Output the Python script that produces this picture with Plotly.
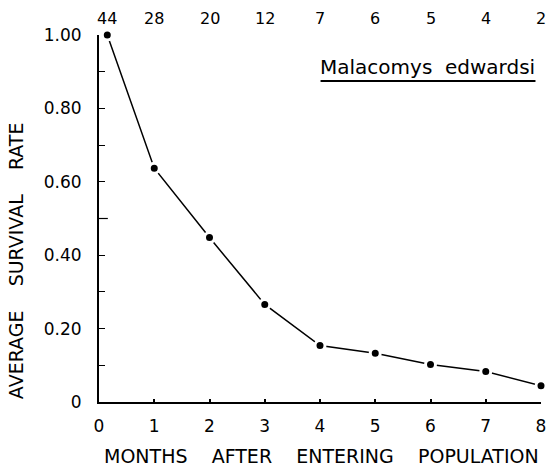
import plotly.graph_objects as go

# Data
months = [0.15, 1, 2, 3, 4, 5, 6, 7, 8]
survival = [1.00, 0.637, 0.448, 0.266, 0.154, 0.133, 0.102, 0.083, 0.044]
n_alive = ["44", "28", "20", "12", "7", "6", "5", "4", "2"]

x_ticks = [0, 1, 2, 3, 4, 5, 6, 7, 8]
y_tickvals = [0, 0.2, 0.4, 0.6, 0.8, 1.0]
y_ticktext = ["0", "0.20", "0.40", "0.60", "0.80", "1.00"]

FONT = "DejaVu Sans"
NB = "\u00a0"

fig = go.Figure()
fig.add_trace(go.Scatter(
    x=months, y=survival, mode="lines+markers",
    line=dict(color="black", width=1.5),
    marker=dict(color="black", size=10, line=dict(color="white", width=3)),
    cliponaxis=False, showlegend=False,
))

annotations = []
for xv, t in zip(months, n_alive):
    annotations.append(dict(x=xv, y=1.046, xref="x", yref="paper", text=t,
                            showarrow=False, font=dict(family=FONT, size=16, color="black"),
                            xanchor="center", yanchor="middle"))

annotations.append(dict(
    x=0.503, y=-0.147, xref="paper", yref="paper",
    text=(NB * 4).join(["MONTHS", "AFTER", "ENTERING", "POPULATION"]),
    showarrow=False, font=dict(family=FONT, size=19, color="black"),
    xanchor="center", yanchor="middle"))
annotations.append(dict(
    x=-0.186, y=0.386, xref="paper", yref="paper",
    text=(NB * 4).join(["AVERAGE", "SURVIVAL", "RATE"]),
    textangle=-90, showarrow=False, font=dict(family=FONT, size=19, color="black"),
    xanchor="center", yanchor="middle"))
annotations.append(dict(
    x=5.94, y=0.913, xref="x", yref="y",
    text="Malacomys" + NB * 2 + "edwardsi",
    showarrow=False, font=dict(family=FONT, size=20, color="black"),
    xanchor="center", yanchor="middle"))

fig.update_layout(
    width=551, height=466,
    margin=dict(l=99, r=5, t=35, b=64),
    paper_bgcolor="white", plot_bgcolor="white",
    font=dict(family=FONT, size=16, color="black"),
    annotations=annotations,
    shapes=[
        dict(type="line", xref="x", yref="y", x0=4.01, x1=7.9, y0=0.875, y1=0.875,
             line=dict(color="black", width=2)),
        dict(type="line", xref="x", yref="y", x0=0, x1=0.16, y0=0.5, y1=0.5,
             line=dict(color="black", width=1.2)),
    ],
    xaxis=dict(range=[0, 8], tickvals=x_ticks, ticks="inside", ticklen=3, tickwidth=2,
               tickcolor="black", showline=True, linecolor="black", linewidth=2,
               showgrid=False, zeroline=False, ticklabelstandoff=8,
               ticklabeloverflow="allow",
               tickfont=dict(family=FONT, size=17)),
    yaxis=dict(range=[0, 1], tickvals=y_tickvals, ticktext=y_ticktext,
               ticks="inside", ticklen=6, tickwidth=1.2, tickcolor="black",
               minor=dict(dtick=0.1, tick0=0, ticks="inside", ticklen=6, tickwidth=1.2,
                          tickcolor="black", showgrid=False),
               showline=True, linecolor="black", linewidth=2,
               showgrid=False, zeroline=False, ticklabelstandoff=12,
               tickfont=dict(family=FONT, size=17)),
)

fig.write_html("out.html")
